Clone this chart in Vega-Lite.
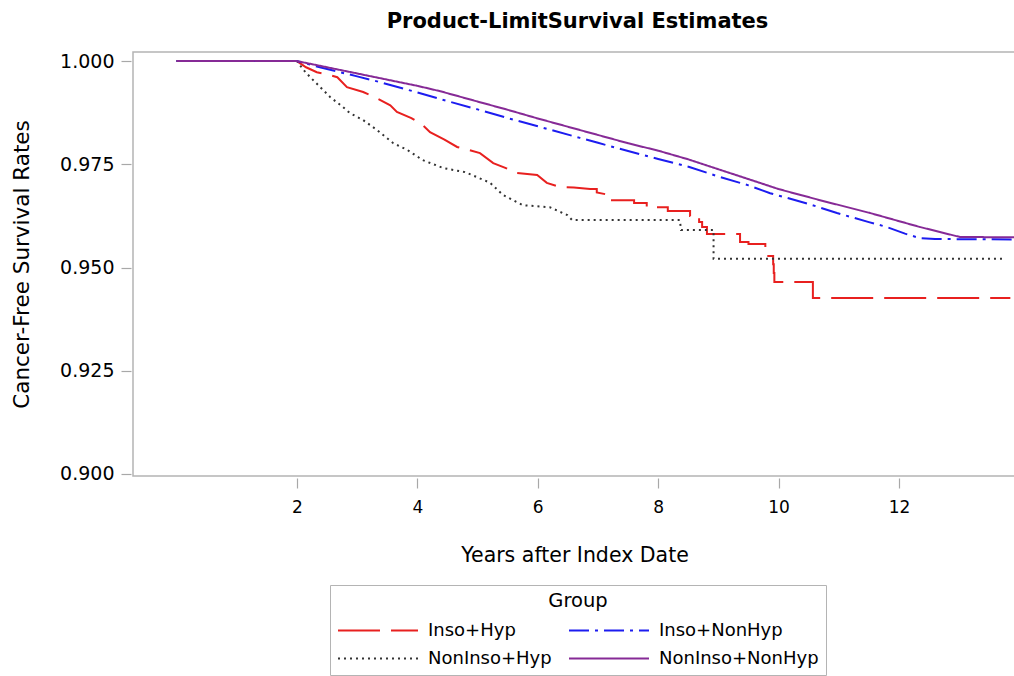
{
  "$schema": "https://vega.github.io/schema/vega-lite/v6.json",
  "autosize": {"type": "none"},
  "padding": {"left": 133, "top": 52, "right": 0, "bottom": 200},
  "width": 883,
  "height": 424,
  "background": "white",
  "config": {"font": "DejaVu Sans", "view": {"stroke": "#b4b4b4", "strokeWidth": 1.5}},
  "title": {"text": "Product-LimitSurvival Estimates", "fontSize": 21, "fontWeight": "bold", "anchor": "middle", "offset": 20, "dx": 3, "color": "#000"},
  "data": {"values": [
    {"group": "Inso+Hyp", "year": 0, "surv": 1.0},
    {"group": "Inso+Hyp", "year": 2, "surv": 1.0},
    {"group": "Inso+Hyp", "year": 2.15, "surv": 0.9985},
    {"group": "Inso+Hyp", "year": 2.33, "surv": 0.9973},
    {"group": "Inso+Hyp", "year": 2.5, "surv": 0.9968},
    {"group": "Inso+Hyp", "year": 2.67, "surv": 0.9961},
    {"group": "Inso+Hyp", "year": 2.83, "surv": 0.9937},
    {"group": "Inso+Hyp", "year": 3.1, "surv": 0.9925},
    {"group": "Inso+Hyp", "year": 3.3, "surv": 0.9912},
    {"group": "Inso+Hyp", "year": 3.55, "surv": 0.9893},
    {"group": "Inso+Hyp", "year": 3.66, "surv": 0.9877},
    {"group": "Inso+Hyp", "year": 3.9, "surv": 0.9862},
    {"group": "Inso+Hyp", "year": 4.09, "surv": 0.9845},
    {"group": "Inso+Hyp", "year": 4.21, "surv": 0.9828},
    {"group": "Inso+Hyp", "year": 4.45, "surv": 0.981},
    {"group": "Inso+Hyp", "year": 4.66, "surv": 0.9792},
    {"group": "Inso+Hyp", "year": 4.85, "surv": 0.9785},
    {"group": "Inso+Hyp", "year": 5.04, "surv": 0.9777},
    {"group": "Inso+Hyp", "year": 5.26, "surv": 0.9753},
    {"group": "Inso+Hyp", "year": 5.45, "surv": 0.9742},
    {"group": "Inso+Hyp", "year": 5.65, "surv": 0.9729},
    {"group": "Inso+Hyp", "year": 5.99, "surv": 0.9724},
    {"group": "Inso+Hyp", "year": 6.15, "surv": 0.9705},
    {"group": "Inso+Hyp", "year": 6.37, "surv": 0.9695},
    {"group": "Inso+Hyp", "year": 6.6, "surv": 0.9694},
    {"group": "Inso+Hyp", "year": 6.87, "surv": 0.969},
    {"group": "Inso+Hyp", "year": 6.98, "surv": 0.969},
    {"group": "Inso+Hyp", "year": 6.98, "surv": 0.9682},
    {"group": "Inso+Hyp", "year": 7.21, "surv": 0.9675},
    {"group": "Inso+Hyp", "year": 7.21, "surv": 0.9663},
    {"group": "Inso+Hyp", "year": 7.6, "surv": 0.9663},
    {"group": "Inso+Hyp", "year": 7.6, "surv": 0.9656},
    {"group": "Inso+Hyp", "year": 7.81, "surv": 0.9656},
    {"group": "Inso+Hyp", "year": 7.81, "surv": 0.9646},
    {"group": "Inso+Hyp", "year": 8.16, "surv": 0.9646},
    {"group": "Inso+Hyp", "year": 8.16, "surv": 0.9637},
    {"group": "Inso+Hyp", "year": 8.53, "surv": 0.9637},
    {"group": "Inso+Hyp", "year": 8.53, "surv": 0.9625},
    {"group": "Inso+Hyp", "year": 8.68, "surv": 0.9625},
    {"group": "Inso+Hyp", "year": 8.68, "surv": 0.961},
    {"group": "Inso+Hyp", "year": 8.73, "surv": 0.961},
    {"group": "Inso+Hyp", "year": 8.73, "surv": 0.9598},
    {"group": "Inso+Hyp", "year": 8.81, "surv": 0.9598},
    {"group": "Inso+Hyp", "year": 8.81, "surv": 0.9581},
    {"group": "Inso+Hyp", "year": 9.36, "surv": 0.9581},
    {"group": "Inso+Hyp", "year": 9.36, "surv": 0.9562},
    {"group": "Inso+Hyp", "year": 9.5, "surv": 0.9562},
    {"group": "Inso+Hyp", "year": 9.5, "surv": 0.9557},
    {"group": "Inso+Hyp", "year": 9.78, "surv": 0.9557},
    {"group": "Inso+Hyp", "year": 9.78, "surv": 0.9528},
    {"group": "Inso+Hyp", "year": 9.91, "surv": 0.9528},
    {"group": "Inso+Hyp", "year": 9.91, "surv": 0.9508},
    {"group": "Inso+Hyp", "year": 9.92, "surv": 0.9508},
    {"group": "Inso+Hyp", "year": 9.92, "surv": 0.9487},
    {"group": "Inso+Hyp", "year": 9.93, "surv": 0.9487},
    {"group": "Inso+Hyp", "year": 9.93, "surv": 0.9465},
    {"group": "Inso+Hyp", "year": 10.57, "surv": 0.9465},
    {"group": "Inso+Hyp", "year": 10.57, "surv": 0.9426},
    {"group": "Inso+Hyp", "year": 13.85, "surv": 0.9426},

    {"group": "NonInso+Hyp", "year": 0, "surv": 1.0},
    {"group": "NonInso+Hyp", "year": 2, "surv": 1.0},
    {"group": "NonInso+Hyp", "year": 2.1, "surv": 0.998},
    {"group": "NonInso+Hyp", "year": 2.22, "surv": 0.9961},
    {"group": "NonInso+Hyp", "year": 2.4, "surv": 0.9935},
    {"group": "NonInso+Hyp", "year": 2.55, "surv": 0.9913},
    {"group": "NonInso+Hyp", "year": 2.76, "surv": 0.9889},
    {"group": "NonInso+Hyp", "year": 2.88, "surv": 0.9874},
    {"group": "NonInso+Hyp", "year": 3.1, "surv": 0.9857},
    {"group": "NonInso+Hyp", "year": 3.33, "surv": 0.9833},
    {"group": "NonInso+Hyp", "year": 3.6, "surv": 0.9801},
    {"group": "NonInso+Hyp", "year": 3.83, "surv": 0.9785},
    {"group": "NonInso+Hyp", "year": 4.09, "surv": 0.976},
    {"group": "NonInso+Hyp", "year": 4.43, "surv": 0.9741},
    {"group": "NonInso+Hyp", "year": 4.79, "surv": 0.9731},
    {"group": "NonInso+Hyp", "year": 4.99, "surv": 0.9719},
    {"group": "NonInso+Hyp", "year": 5.21, "surv": 0.9705},
    {"group": "NonInso+Hyp", "year": 5.42, "surv": 0.9676},
    {"group": "NonInso+Hyp", "year": 5.75, "surv": 0.9651},
    {"group": "NonInso+Hyp", "year": 6.2, "surv": 0.9646},
    {"group": "NonInso+Hyp", "year": 6.49, "surv": 0.9627},
    {"group": "NonInso+Hyp", "year": 6.57, "surv": 0.9615},
    {"group": "NonInso+Hyp", "year": 8.36, "surv": 0.9615},
    {"group": "NonInso+Hyp", "year": 8.38, "surv": 0.9591},
    {"group": "NonInso+Hyp", "year": 8.92, "surv": 0.9591},
    {"group": "NonInso+Hyp", "year": 8.92, "surv": 0.9521},
    {"group": "NonInso+Hyp", "year": 13.73, "surv": 0.9521},

    {"group": "Inso+NonHyp", "year": 0, "surv": 1.0},
    {"group": "Inso+NonHyp", "year": 2, "surv": 1.0},
    {"group": "Inso+NonHyp", "year": 2.38, "surv": 0.9985},
    {"group": "Inso+NonHyp", "year": 3, "surv": 0.9963},
    {"group": "Inso+NonHyp", "year": 3.38, "surv": 0.9949},
    {"group": "Inso+NonHyp", "year": 4, "surv": 0.9924},
    {"group": "Inso+NonHyp", "year": 4.38, "surv": 0.9908},
    {"group": "Inso+NonHyp", "year": 5, "surv": 0.9883},
    {"group": "Inso+NonHyp", "year": 5.5, "surv": 0.9862},
    {"group": "Inso+NonHyp", "year": 6, "surv": 0.9842},
    {"group": "Inso+NonHyp", "year": 6.7, "surv": 0.9814},
    {"group": "Inso+NonHyp", "year": 7, "surv": 0.9802},
    {"group": "Inso+NonHyp", "year": 7.5, "surv": 0.9782},
    {"group": "Inso+NonHyp", "year": 8, "surv": 0.9763},
    {"group": "Inso+NonHyp", "year": 8.53, "surv": 0.9743},
    {"group": "Inso+NonHyp", "year": 9.03, "surv": 0.9719},
    {"group": "Inso+NonHyp", "year": 9.5, "surv": 0.9699},
    {"group": "Inso+NonHyp", "year": 9.86, "surv": 0.968},
    {"group": "Inso+NonHyp", "year": 10.5, "surv": 0.9654},
    {"group": "Inso+NonHyp", "year": 10.97, "surv": 0.9632},
    {"group": "Inso+NonHyp", "year": 11.5, "surv": 0.961},
    {"group": "Inso+NonHyp", "year": 11.8, "surv": 0.9598},
    {"group": "Inso+NonHyp", "year": 12.1, "surv": 0.9582},
    {"group": "Inso+NonHyp", "year": 12.35, "surv": 0.9571},
    {"group": "Inso+NonHyp", "year": 12.6, "surv": 0.9569},
    {"group": "Inso+NonHyp", "year": 14, "surv": 0.9568},

    {"group": "NonInso+NonHyp", "year": 0, "surv": 1.0},
    {"group": "NonInso+NonHyp", "year": 2, "surv": 1.0},
    {"group": "NonInso+NonHyp", "year": 2.5, "surv": 0.9985},
    {"group": "NonInso+NonHyp", "year": 3, "surv": 0.997},
    {"group": "NonInso+NonHyp", "year": 3.5, "surv": 0.9955},
    {"group": "NonInso+NonHyp", "year": 4, "surv": 0.994},
    {"group": "NonInso+NonHyp", "year": 4.38, "surv": 0.9927},
    {"group": "NonInso+NonHyp", "year": 5, "surv": 0.9902},
    {"group": "NonInso+NonHyp", "year": 5.5, "surv": 0.9882},
    {"group": "NonInso+NonHyp", "year": 6, "surv": 0.9861},
    {"group": "NonInso+NonHyp", "year": 6.7, "surv": 0.9833},
    {"group": "NonInso+NonHyp", "year": 7, "surv": 0.9821},
    {"group": "NonInso+NonHyp", "year": 7.5, "surv": 0.9801},
    {"group": "NonInso+NonHyp", "year": 8, "surv": 0.9783},
    {"group": "NonInso+NonHyp", "year": 8.5, "surv": 0.9762},
    {"group": "NonInso+NonHyp", "year": 9, "surv": 0.9738},
    {"group": "NonInso+NonHyp", "year": 9.69, "surv": 0.9705},
    {"group": "NonInso+NonHyp", "year": 10, "surv": 0.969},
    {"group": "NonInso+NonHyp", "year": 10.69, "surv": 0.9663},
    {"group": "NonInso+NonHyp", "year": 11.52, "surv": 0.9632},
    {"group": "NonInso+NonHyp", "year": 12.35, "surv": 0.9598},
    {"group": "NonInso+NonHyp", "year": 13.01, "surv": 0.9574},
    {"group": "NonInso+NonHyp", "year": 14, "surv": 0.9573}
  ]},
  "mark": {"type": "line", "clip": true, "strokeWidth": 2, "interpolate": "linear"},
  "encoding": {
    "x": {
      "field": "year", "type": "quantitative",
      "scale": {"domain": [-0.724, 13.944], "nice": false, "zero": false},
      "axis": {
        "values": [2, 4, 6, 8, 10, 12], "grid": false, "domain": false,
        "title": "Years after Index Date", "titleFontSize": 20.5, "titleFontWeight": "normal", "titleColor": "#000",
        "titleY": 77, "titleBaseline": "middle",
        "labelFontSize": 17, "labelColor": "#000", "labelPadding": 11,
        "tickColor": "#a8a8a8", "tickSize": 10, "tickWidth": 1.2, "offset": 2
      }
    },
    "y": {
      "field": "surv", "type": "quantitative",
      "scale": {"domain": [0.8995, 1.0022], "nice": false, "zero": false},
      "axis": {
        "values": [0.9, 0.925, 0.95, 0.975, 1.0], "format": ".3f", "grid": false, "domain": false,
        "title": "Cancer-Free Survival Rates", "titleFontSize": 21.5, "titleFontWeight": "normal", "titleColor": "#000",
        "titleX": -109, "titleY": 212, "titleBaseline": "middle", "titleAlign": "center",
        "labelFontSize": 19, "labelColor": "#000", "labelPadding": 7,
        "tickColor": "#a8a8a8", "tickSize": 10, "tickWidth": 1.2, "offset": 2
      }
    },
    "order": [{"field": "year", "sort": "ascending"}, {"field": "surv", "sort": "descending"}],
    "color": {
      "field": "group", "type": "nominal",
      "scale": {"domain": ["Inso+Hyp", "Inso+NonHyp", "NonInso+Hyp", "NonInso+NonHyp"], "range": ["#e8201f", "#1c1cf0", "#333333", "#862a96"]},
      "legend": {
        "title": "Group", "orient": "none", "legendX": 197, "legendY": 533,
        "direction": "horizontal", "columns": 2, "columnPadding": 13, "rowPadding": 8,
        "titleFontSize": 19.5, "titleFontWeight": "normal", "titleColor": "#000", "titleAnchor": "middle", "titleAlign": "center", "titlePadding": 8,
        "labelFontSize": 18, "labelColor": "#000", "labelOffset": 39, "labelLimit": 300,
        "symbolType": "M-4,0H4", "symbolSize": 400, "symbolOffset": 30, "symbolStrokeWidth": 2,
        "strokeColor": "#b4b4b4", "padding": 7
      }
    },
    "strokeDash": {
      "field": "group", "type": "nominal",
      "scale": {"domain": ["Inso+Hyp", "Inso+NonHyp", "NonInso+Hyp", "NonInso+NonHyp"], "range": [[42, 11], [20, 6, 3, 6], [2, 4], [1, 0]]},
      "legend": {
        "title": "Group", "orient": "none", "legendX": 197, "legendY": 533,
        "direction": "horizontal", "columns": 2, "columnPadding": 13, "rowPadding": 8,
        "titleFontSize": 19.5, "titleFontWeight": "normal", "titleColor": "#000", "titleAnchor": "middle", "titleAlign": "center", "titlePadding": 8,
        "labelFontSize": 18, "labelColor": "#000", "labelOffset": 39, "labelLimit": 300,
        "symbolType": "M-4,0H4", "symbolSize": 400, "symbolOffset": 30, "symbolStrokeWidth": 2,
        "strokeColor": "#b4b4b4", "padding": 7
      }
    }
  }
}
